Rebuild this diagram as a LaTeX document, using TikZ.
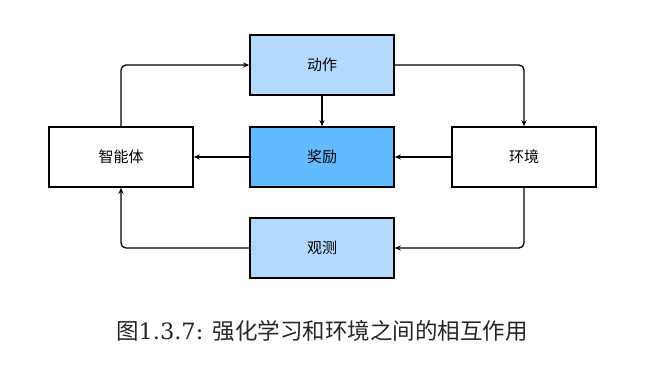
\documentclass[tikz,border=0pt]{standalone}
\usepackage{fontspec}
\newfontfamily\cjk{Noto Sans CJK SC}
\newfontfamily\capserif{DejaVu Serif}
\usetikzlibrary{arrows.meta}
\definecolor{lightb}{RGB}{179,217,255}
\definecolor{midb}{RGB}{99,187,255}
\begin{document}
\begin{tikzpicture}[x=1pt,y=-1pt,
  box/.style={draw=black,line width=1.6pt,minimum width=144pt,minimum height=60pt,inner sep=0pt,font=\cjk\fontsize{15}{17}\selectfont},
  conn/.style={line width=1.3pt,-{Stealth[length=6pt,width=5pt]},rounded corners=5pt}]
\useasboundingbox (0,0) rectangle (656,367);
\node[box,fill=lightb] (act) at (322,65) {动作};
\node[box,fill=midb] (rew) at (322,157) {奖励};
\node[box,fill=white] (agent) at (121,157) {智能体};
\node[box,fill=white] (env) at (524,157) {环境};
\node[box,fill=lightb] (obs) at (322,248) {观测};
\draw[conn] (agent.north) |- (act.west);
\draw[conn] (act.east) -| (env.north);
\draw[conn] (env.south) |- (obs.east);
\draw[conn] (obs.west) -| (agent.south);
\draw[conn] (act.south) -- (rew.north);
\draw[conn] (env.west) -- (rew.east);
\draw[conn] (rew.west) -- (agent.east);
\node[font=\fontsize{22.5}{25}\selectfont,text=black!85,inner sep=0pt] (cap) at (322,331) {\cjk 图\capserif 1.3.7: \cjk 强化学习和环境之间的相互作用};
\end{tikzpicture}
\end{document}
